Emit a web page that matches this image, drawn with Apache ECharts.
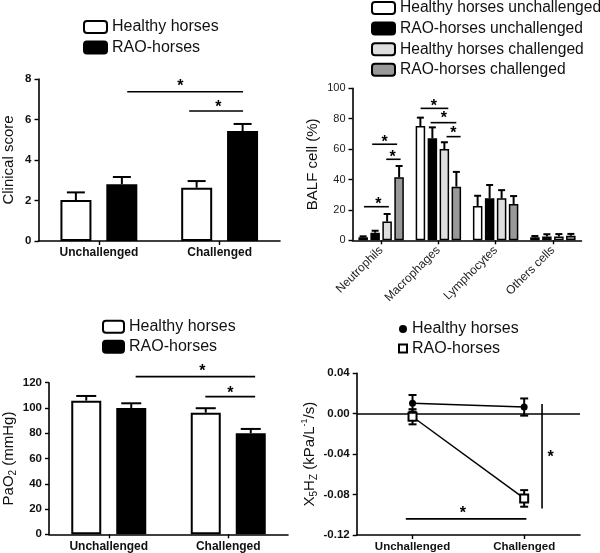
<!DOCTYPE html>
<html>
<head>
<meta charset="utf-8">
<script src="https://cdn.jsdelivr.net/npm/echarts@6/dist/echarts.min.js"></script>
<style>
html,body{margin:0;padding:0;background:#fff;}
#c{width:600px;height:553px;}
</style>
</head>
<body>
<div id="c"></div>
<script>
// ---------- DATA ----------
// Panel A: clinical score
const groups = ['Unchallenged', 'Challenged'];
const scoreHealthy = [2.02, 2.63];
const scoreHealthyErr = [0.38, 0.33];
const scoreRao = [2.8, 5.43];
const scoreRaoErr = [0.36, 0.35];
// significance: [x1, y1, x2, y2, starX, starY] in category-index / value units
const scoreSig = [[0.235, 7.37, 1.194, 7.37, 0.674, 7.8], [0.748, 6.42, 1.194, 6.42, 0.99, 6.77]];

// Panel B: BALF cells
const cellTypes = ['Neutrophils', 'Macrophages', 'Lymphocytes', 'Others cells'];
const balfHealthyUnch = [2.0, 75.2, 22.6, 2.0];
const balfHealthyUnchErr = [0.6, 5.5, 6.7, 0.8];
const balfRaoUnch = [5.0, 67.1, 27.6, 2.5];
const balfRaoUnchErr = [1.3, 7.2, 8.8, 1.5];
const balfHealthyCh = [12.3, 60.0, 27.6, 2.5];
const balfHealthyChErr = [5.0, 4.5, 5.4, 1.6];
const balfRaoCh = [41.4, 35.3, 23.9, 3.0];
const balfRaoChErr = [7.5, 9.7, 5.2, 1.2];
const balfSig = [
  [-0.30, 22.1, 0.135, 22.1, -0.05, 26.0],
  [-0.156, 63.2, 0.28, 63.2, 0.06, 67.1],
  [0.089, 53.3, 0.34, 53.3, 0.2, 57.2],
  [0.689, 86.8, 1.173, 86.8, 0.92, 90.8],
  [0.864, 77.4, 1.313, 77.4, 1.096, 82.4],
  [1.143, 68.2, 1.388, 68.2, 1.26, 72.6]
];

// Panel C: PaO2
const paoHealthy = [105.8, 96.3];
const paoHealthyErr = [3.7, 3.5];
const paoRao = [100.0, 80.0];
const paoRaoErr = [3.7, 3.4];
const paoSig = [[0.225, 124.8, 1.225, 124.8, 0.783, 132.2], [0.808, 109, 1.225, 109, 1.017, 114.3]];

// Panel D: X5Hz
const xHealthy = [0.0103, 0.0066];
const xHealthyErr = [0.0082, 0.0085];
const xRao = [-0.003, -0.0838];
const xRaoErr = [0.0075, 0.0082];
const xSig = [[1.16, 0.0096, 1.16, -0.0937, 1.237, -0.0392], [-0.06, -0.104, 1.02, -0.104, 0.45, -0.0953]];

// ---------- HELPERS ----------
const FONT = 'Liberation Sans';
const names = {
  aH: 'Healthy horses', aR: 'RAO-horses',
  bHU: 'Healthy horses unchallenged', bRU: 'RAO-horses unchallenged',
  bHC: 'Healthy horses challenged', bRC: 'RAO-horses challenged',
  cH: 'Healthy horses', cR: 'RAO-horses',
  dH: 'Healthy horses', dR: 'RAO-horses'
};

function errSeries(xi, yi, vals, errs, offset, cap, both) {
  return {
    type: 'custom', xAxisIndex: xi, yAxisIndex: yi, z: 3, silent: true,
    data: vals.map((v, i) => [i, v, errs[i]]),
    renderItem(params, api) {
      const i = api.value(0), v = api.value(1), e = api.value(2);
      const base = api.coord([i, v]);
      const hi = api.coord([i, v + e]);
      const lo = api.coord([i, both ? v - e : v]);
      const x = base[0] + offset;
      const st = { stroke: '#000', lineWidth: 2 };
      const ch = [
        { type: 'line', shape: { x1: x, y1: lo[1], x2: x, y2: hi[1] }, style: st },
        { type: 'line', shape: { x1: x - cap / 2, y1: hi[1], x2: x + cap / 2, y2: hi[1] }, style: st }
      ];
      if (both) ch.push({ type: 'line', shape: { x1: x - cap / 2, y1: lo[1], x2: x + cap / 2, y2: lo[1] }, style: st });
      return { type: 'group', children: ch };
    }
  };
}

function sigSeries(xi, yi, items) {
  return {
    type: 'custom', xAxisIndex: xi, yAxisIndex: yi, z: 4, silent: true,
    data: items,
    renderItem(params, api) {
      const a = api.coord([api.value(0), api.value(1)]);
      const b = api.coord([api.value(2), api.value(3)]);
      const s = api.coord([api.value(4), api.value(5)]);
      return {
        type: 'group', children: [
          { type: 'line', shape: { x1: a[0], y1: a[1], x2: b[0], y2: b[1] }, style: { stroke: '#000', lineWidth: 1.6 } },
          { type: 'text', x: s[0], y: s[1] + 4, style: { text: '*', fill: '#000', font: 'bold 16px ' + FONT, align: 'center', verticalAlign: 'middle' } }
        ]
      };
    }
  };
}

function catAxis(grid, data, labelOpt) {
  return {
    type: 'category', gridIndex: grid, data: data,
    axisLine: { onZero: false, lineStyle: { color: '#000', width: 1.6 } },
    axisTick: { show: true, alignWithLabel: true, length: 4, lineStyle: { color: '#000', width: 1.4 } },
    axisLabel: Object.assign({ color: '#111', fontWeight: 'bold', fontSize: 12, margin: 6, interval: 0 }, labelOpt || {})
  };
}
function hiddenAxis(grid, n) {
  return { type: 'value', gridIndex: grid, min: -0.5, max: n - 0.5, show: false, axisLine: { onZero: false } };
}
function valAxis(grid, min, max, interval, extra) {
  return Object.assign({
    type: 'value', gridIndex: grid, min: min, max: max, interval: interval,
    splitLine: { show: false },
    axisLine: { show: true, onZero: false, lineStyle: { color: '#000', width: 1.6 } },
    axisTick: { show: true, length: 4, lineStyle: { color: '#000', width: 1.4 } },
    axisLabel: { color: '#111', fontWeight: 'bold', fontSize: 11.5, margin: 7 },
    nameLocation: 'middle',
    nameTextStyle: { color: '#111', fontSize: 15 }
  }, extra || {});
}

function legend(dataNames, left, top, w, h, gap, fs, items) {
  return {
    data: items || dataNames, left: left, top: top, orient: 'vertical', padding: 0,
    itemWidth: w, itemHeight: h, itemGap: gap, selectedMode: false,
    textStyle: { fontSize: fs, color: '#111', fontFamily: FONT },
    itemStyle: { borderColor: '#000', borderWidth: 2 },
    formatter: n => names[n]
  };
}

// ---------- OPTION ----------
const barStyle = (c, bw) => ({ color: c, borderColor: '#000', borderWidth: bw });

const option = {
  animation: false,
  backgroundColor: '#fff',
  textStyle: { fontFamily: FONT },
  grid: [
    { left: 38, top: 79, width: 242, height: 162 },
    { left: 352.5, top: 88.3, width: 229, height: 152 },
    { left: 48, top: 382.7, width: 240, height: 151.6 },
    { left: 356.7, top: 373.3, width: 223.3, height: 161.7 }
  ],
  legend: [
    legend(['aH', 'aR'], 83, 19, 23, 12, 4.5, 16),
    legend(['bHU', 'bRU', 'bHC', 'bRC'], 371, 0, 23, 12, 4.6, 15.6),
    legend(['cH', 'cR'], 102, 318.7, 21, 12, 4, 16),
    legend(null, 398, 321, 8, 8, 3.5, 16, [
      { name: 'dH', icon: 'circle', itemStyle: { color: '#000', borderWidth: 0 } },
      { name: 'dR', icon: 'rect', itemStyle: { color: '#fff', borderColor: '#000', borderWidth: 2 } }
    ])
  ],
  xAxis: [
    catAxis(0, groups),
    hiddenAxis(0, groups.length),
    catAxis(1, cellTypes, { rotate: 45, fontWeight: 'normal', fontSize: 12, margin: 8, color: '#222' }),
    hiddenAxis(1, cellTypes.length),
    catAxis(2, groups),
    hiddenAxis(2, groups.length),
    catAxis(3, groups, { fontSize: 11.5 }),
    hiddenAxis(3, groups.length)
  ],
  yAxis: [
    valAxis(0, 0, 8, 2, { name: 'Clinical score', nameGap: 22.5 }),
    valAxis(1, 0, 100, 20, {
      name: 'BALF cell (%)', nameGap: 32,
      axisLabel: { color: '#222', fontWeight: 'normal', fontSize: 11, margin: 7 }
    }),
    valAxis(2, 0, 120, 20, {
      name: '{n|PaO}{s|2}{n| (mmHg)}', nameGap: 30.5,
      nameTextStyle: {
        rich: {
          n: { fontSize: 15, lineHeight: 20, color: '#111' },
          s: { fontSize: 10, lineHeight: 20, verticalAlign: 'bottom', color: '#111' }
        }
      }
    }),
    valAxis(3, -0.12, 0.04, 0.04, {
      name: '{n|X}{s|5}{n|H}{s|Z}{n| (kPa/L}{p|-1}{n|/s)}', nameGap: 32,
      axisLabel: { color: '#111', fontWeight: 'bold', fontSize: 11.5, margin: 7, formatter: v => v.toFixed(2) },
      nameTextStyle: {
        rich: {
          n: { fontSize: 15, lineHeight: 20, color: '#111' },
          s: { fontSize: 10, lineHeight: 20, verticalAlign: 'bottom', color: '#111' },
          p: { fontSize: 9, lineHeight: 20, verticalAlign: 'top', color: '#111' }
        }
      }
    })
  ],
  series: [
    // Panel A
    { name: 'aH', type: 'bar', xAxisIndex: 0, yAxisIndex: 0, data: scoreHealthy, barWidth: 31, barGap: '48%', itemStyle: barStyle('#fff', 2) },
    { name: 'aR', type: 'bar', xAxisIndex: 0, yAxisIndex: 0, data: scoreRao, barWidth: 31, barGap: '48%', itemStyle: barStyle('#000', 2) },
    errSeries(0, 0, scoreHealthy, scoreHealthyErr, -23, 18, false),
    errSeries(0, 0, scoreRao, scoreRaoErr, 23, 18, false),
    sigSeries(1, 0, scoreSig),
    // Panel B
    { name: 'bHU', type: 'bar', xAxisIndex: 2, yAxisIndex: 1, data: balfHealthyUnch, barWidth: 9.5, barGap: '26%', itemStyle: barStyle('#fff', 1.5) },
    { name: 'bRU', type: 'bar', xAxisIndex: 2, yAxisIndex: 1, data: balfRaoUnch, barWidth: 9.5, barGap: '26%', itemStyle: barStyle('#000', 1.5) },
    { name: 'bHC', type: 'bar', xAxisIndex: 2, yAxisIndex: 1, data: balfHealthyCh, barWidth: 9.5, barGap: '26%', itemStyle: barStyle('#dedede', 1.5) },
    { name: 'bRC', type: 'bar', xAxisIndex: 2, yAxisIndex: 1, data: balfRaoCh, barWidth: 9.5, barGap: '26%', itemStyle: barStyle('#999999', 1.5) },
    errSeries(2, 1, balfHealthyUnch, balfHealthyUnchErr, -18, 7, false),
    errSeries(2, 1, balfRaoUnch, balfRaoUnchErr, -6, 7, false),
    errSeries(2, 1, balfHealthyCh, balfHealthyChErr, 6, 7, false),
    errSeries(2, 1, balfRaoCh, balfRaoChErr, 18, 7, false),
    sigSeries(3, 1, balfSig),
    // Panel C
    { name: 'cH', type: 'bar', xAxisIndex: 4, yAxisIndex: 2, data: paoHealthy, barWidth: 30, barGap: '50%', itemStyle: barStyle('#fff', 2) },
    { name: 'cR', type: 'bar', xAxisIndex: 4, yAxisIndex: 2, data: paoRao, barWidth: 30, barGap: '50%', itemStyle: barStyle('#000', 2) },
    errSeries(4, 2, paoHealthy, paoHealthyErr, -22.5, 20, false),
    errSeries(4, 2, paoRao, paoRaoErr, 22.5, 20, false),
    sigSeries(5, 2, paoSig),
    // Panel D
    {
      name: 'dH', type: 'line', xAxisIndex: 6, yAxisIndex: 3, data: xHealthy, z: 5,
      symbol: 'circle', symbolSize: 7, itemStyle: { color: '#000' }, lineStyle: { color: '#000', width: 1.5 },
      markLine: { silent: true, symbol: 'none', label: { show: false }, lineStyle: { color: '#000', type: 'solid', width: 1.6 }, data: [{ yAxis: 0 }] }
    },
    {
      name: 'dR', type: 'line', xAxisIndex: 6, yAxisIndex: 3, data: xRao, z: 5,
      symbol: 'rect', symbolSize: 8, itemStyle: { color: '#fff', borderColor: '#000', borderWidth: 2 }, lineStyle: { color: '#000', width: 1.5 }
    },
    errSeries(6, 3, xHealthy, xHealthyErr, 0, 8, true),
    errSeries(6, 3, xRao, xRaoErr, 0, 8, true),
    sigSeries(7, 3, xSig)
  ]
};

const chart = echarts.init(document.getElementById('c'), null, { renderer: 'canvas' });
chart.setOption(option);
</script>
</body>
</html>
